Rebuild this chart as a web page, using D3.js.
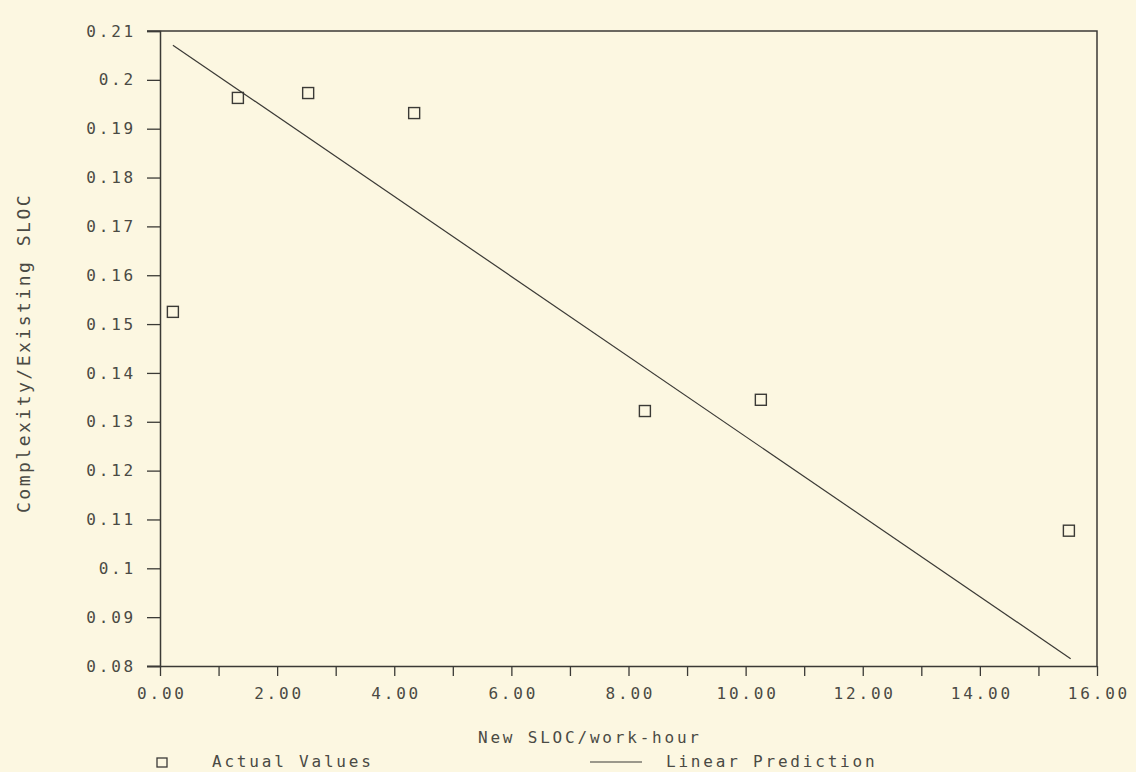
<!DOCTYPE html>
<html>
<head>
<meta charset="utf-8">
<script src="https://cdn.jsdelivr.net/npm/d3@7"></script>
<style>
  html, body { margin: 0; padding: 0; background: #fcf7e1; }
  svg text { font-family: "DejaVu Sans Mono", monospace; fill: #4a4a44; }
</style>
</head>
<body>
<div id="chart"></div>
<script>
// actual observations
const newSlocPerHour = [0.22, 1.33, 2.53, 4.34, 8.28, 10.26, 15.52];
const complexityRatio = [0.1525, 0.1963, 0.1973, 0.1932, 0.1322, 0.1345, 0.1077];

// linear prediction endpoints
const predX = [0.22, 15.55];
const predY = [0.2071, 0.0815];

const xTickLabels = ['0.00', '2.00', '4.00', '6.00', '8.00', '10.00', '12.00', '14.00', '16.00'];
const yTickLabels = ['0.08', '0.09', '0.1', '0.11', '0.12', '0.13', '0.14', '0.15', '0.16', '0.17', '0.18', '0.19', '0.2', '0.21'];

const width = 1136, height = 772;
const margin = { left: 160, right: 39, top: 31, bottom: 106 };
const ink = '#3b3a36';
const spacing = '2.8px';

const svg = d3.select('#chart').append('svg')
  .attr('width', width)
  .attr('height', height);

const x = d3.scaleLinear().domain([0, 16]).range([margin.left, width - margin.right]);
const y = d3.scaleLinear().domain([0.08, 0.21]).range([height - margin.bottom, margin.top]);

// frame: top and right lines
svg.append('path')
  .attr('d', `M${x(0) - 13},${y(0.21)}H${x(16)}V${y(0.08)}`)
  .attr('fill', 'none')
  .attr('stroke', ink)
  .attr('stroke-width', 1.5);

const xAxis = svg.append('g')
  .attr('transform', `translate(0,${y(0.08)})`)
  .call(d3.axisBottom(x).tickValues(d3.range(0, 17, 1)).tickSize(10).tickPadding(12)
    .tickFormat(d => d % 2 === 0 ? xTickLabels[d / 2] : ''));

const yAxis = svg.append('g')
  .attr('transform', `translate(${x(0)},0)`)
  .call(d3.axisLeft(y).tickValues(d3.range(0, 14).map(i => 0.08 + i * 0.01)).tickSize(13).tickPadding(11)
    .tickFormat((d, i) => yTickLabels[i]));

[xAxis, yAxis].forEach(g => {
  g.select('.domain').attr('stroke', ink).attr('stroke-width', 1.5);
  g.selectAll('.tick line').attr('stroke', ink).attr('stroke-width', 1.3);
  g.selectAll('.tick text')
    .style('font-size', '16px')
    .style('letter-spacing', spacing)
    .attr('fill', '#4a4a44');
});
xAxis.selectAll('.tick text').attr('dx', 1.4);
xAxis.select('.domain').attr('d', `M${x(0) - 13},0.5H${x(16)}`);

// linear prediction
svg.append('line')
  .attr('x1', x(predX[0])).attr('y1', y(predY[0]))
  .attr('x2', x(predX[1])).attr('y2', y(predY[1]))
  .attr('stroke', ink)
  .attr('stroke-width', 1.2);

// actual values
const sq = 11;
svg.append('g')
  .selectAll('rect')
  .data(newSlocPerHour.map((v, i) => ({ x: v, y: complexityRatio[i] })))
  .join('rect')
  .attr('x', d => x(d.x) - sq / 2)
  .attr('y', d => y(d.y) - sq / 2)
  .attr('width', sq)
  .attr('height', sq)
  .attr('fill', 'none')
  .attr('stroke', ink)
  .attr('stroke-width', 1.4);

// axis titles
svg.append('text')
  .attr('x', 478)
  .attr('y', 743)
  .style('font-size', '16px')
  .style('letter-spacing', spacing)
  .text('New SLOC/work-hour');

svg.append('text')
  .attr('transform', 'translate(30,513) rotate(-90)')
  .style('font-size', '18px')
  .style('letter-spacing', '2.5px')
  .text('Complexity/Existing SLOC');

// legend
const legend = svg.append('g');
legend.append('rect')
  .attr('x', 157).attr('y', 758).attr('width', 10).attr('height', 9)
  .attr('fill', 'none').attr('stroke', ink).attr('stroke-width', 1.3);
legend.append('text')
  .attr('x', 212).attr('y', 767)
  .style('font-size', '16px').style('letter-spacing', spacing)
  .text('Actual Values');
legend.append('line')
  .attr('x1', 590).attr('x2', 642).attr('y1', 762).attr('y2', 762)
  .attr('stroke', ink).attr('stroke-width', 1.2);
legend.append('text')
  .attr('x', 666).attr('y', 767)
  .style('font-size', '16px').style('letter-spacing', spacing)
  .text('Linear Prediction');
</script>
</body>
</html>
